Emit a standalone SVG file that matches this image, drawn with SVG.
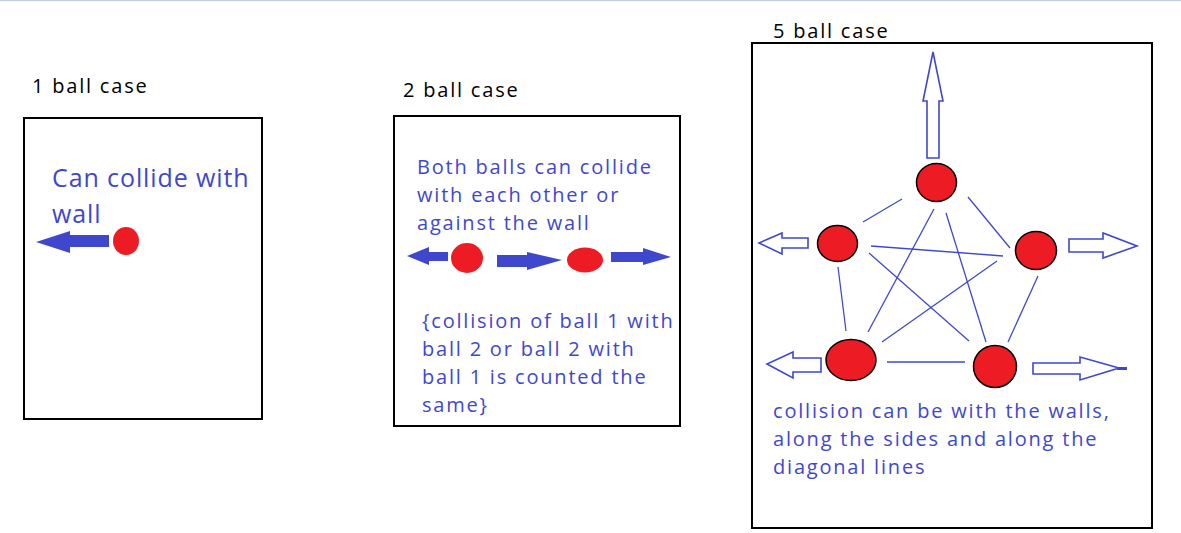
<svg xmlns="http://www.w3.org/2000/svg" width="1181" height="533" viewBox="0 0 1181 533">
<style>
.bg{fill:#ffffff}
.box{fill:none;stroke:#000;stroke-width:2}
.title{font-family:"Open Sans","DejaVu Sans",sans-serif;font-size:20px;letter-spacing:1.8px;fill:#000}
.note{font-family:"Open Sans","DejaVu Sans",sans-serif;font-size:20px;letter-spacing:1.8px;fill:#3f48cc}
.big{font-family:"Open Sans","DejaVu Sans",sans-serif;font-size:25px;letter-spacing:0.9px;fill:#3f48cc}
.ball{fill:#ed1c24}
.ballo{fill:#ed1c24;stroke:#000;stroke-width:1.5}
.solid{fill:#3f48cc;stroke:none}
.hollow{fill:#fff;stroke:#3f48cc;stroke-width:1.6;stroke-linejoin:miter}
.edge{stroke:#3f48cc;stroke-width:1.3;fill:none}
</style>
<rect class="bg" x="0" y="0" width="1181" height="533"/>
<rect x="0" y="0" width="1181" height="1.2" fill="#c3cfe0"/>

<g id="panel1">
  <text class="title" x="32" y="93">1 ball case</text>
  <rect class="box" x="24" y="118" width="238" height="301"/>
  <text class="big" x="52" y="187">Can collide with</text>
  <text class="big" x="52" y="223">wall</text>
</g>
<g id="ball1-1"><ellipse class="ball" cx="126" cy="241" rx="13" ry="14"/></g>

<g id="panel2">
  <text class="title" x="403" y="97">2 ball case</text>
  <rect class="box" x="394" y="116" width="286" height="310"/>
  <text class="note" x="417" y="174">Both balls can collide</text>
  <text class="note" x="417" y="202">with each other or</text>
  <text class="note" x="417" y="230">against the wall</text>
  <text class="note" x="422" y="328">{collision of ball 1 with</text>
  <text class="note" x="422" y="356">ball 2 or ball 2 with</text>
  <text class="note" x="422" y="384">ball 1 is counted the</text>
  <text class="note" x="422" y="412">same}</text>
</g>
<g id="ball2-1"><ellipse class="ball" cx="467" cy="258" rx="16" ry="15"/></g>
<g id="ball2-2"><ellipse class="ball" cx="585" cy="260" rx="18" ry="12.5"/></g>

<g id="panel3">
  <text class="title" x="773" y="38">5 ball case</text>
  <rect class="box" x="752" y="43" width="400" height="485"/>
  <text class="note" x="773" y="418">collision can be with the walls,</text>
  <text class="note" x="773" y="446">along the sides and along the</text>
  <text class="note" x="773" y="474">diagonal lines</text>
</g>

<g id="connectors">
  <!-- panel 1 arrow -->
  <polygon class="solid" points="109,235 70,235 70,231 36,242 70,253 70,247 109,247"/>
  <!-- panel 2 arrows -->
  <polygon class="solid" points="448,252 429,252 429,247 407,256 429,265 429,261 448,261"/>
  <polygon class="solid" points="497,255 527,255 527,252 562,260 527,270 527,267 497,267"/>
  <polygon class="solid" points="611,252 643,252 643,248 671,257 643,265 643,262 611,262"/>
  <!-- panel 3 edges -->
  <line class="edge" x1="902" y1="199" x2="863" y2="222"/>
  <line class="edge" x1="968" y1="197" x2="1010" y2="248"/>
  <line class="edge" x1="934" y1="209" x2="868" y2="332"/>
  <line class="edge" x1="946" y1="213" x2="986" y2="342"/>
  <line class="edge" x1="871" y1="246" x2="1003" y2="256"/>
  <line class="edge" x1="869" y1="253" x2="969" y2="341"/>
  <line class="edge" x1="997" y1="261" x2="882" y2="342"/>
  <line class="edge" x1="838" y1="267" x2="846" y2="331"/>
  <line class="edge" x1="1038" y1="276" x2="1008" y2="342"/>
  <line class="edge" x1="887" y1="362" x2="965" y2="362"/>
  <!-- panel 3 hollow arrows -->
  <polygon class="hollow" points="927,158 939,158 939,101 943,101 933,52 923,101 927,101"/>
  <polygon class="hollow" points="808,238 782,238 782,233 759,243 782,254 782,248 808,248"/>
  <polygon class="hollow" points="1069,239 1103,239 1103,233 1137,246 1103,258 1103,252 1069,252"/>
  <polygon class="hollow" points="821,358 793,358 793,352 767,364 793,378 793,372 821,372"/>
  <polygon class="hollow" points="1033,363 1080,363 1080,357 1119,368 1080,380 1080,374 1033,374"/>
  <rect x="1117" y="367" width="10" height="3" fill="#3f48cc"/>
</g>

<g id="ball5-top"><ellipse class="ballo" cx="936.5" cy="182.5" rx="20" ry="19"/></g>
<g id="ball5-left"><ellipse class="ballo" cx="837.5" cy="243.5" rx="20" ry="18"/></g>
<g id="ball5-right"><ellipse class="ballo" cx="1036" cy="250.5" rx="20.5" ry="19"/></g>
<g id="ball5-bottomleft"><ellipse class="ballo" cx="851" cy="360" rx="25" ry="20.5"/></g>
<g id="ball5-bottomright"><ellipse class="ballo" cx="995" cy="366.5" rx="21.5" ry="21"/></g>
</svg>
